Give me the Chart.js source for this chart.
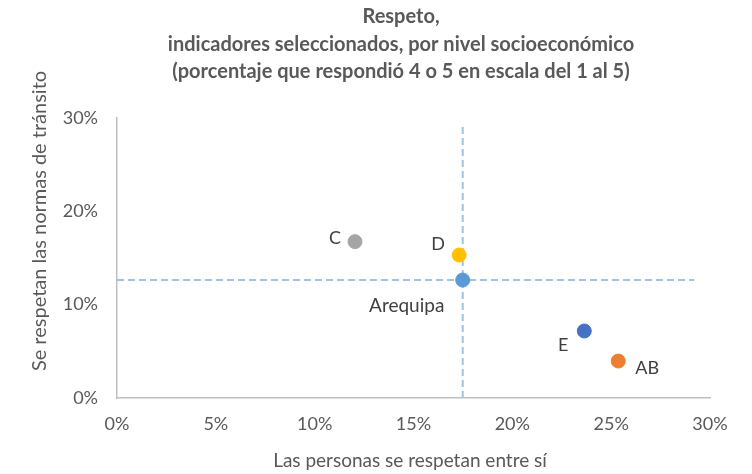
<!DOCTYPE html>
<html><head><meta charset="utf-8">
<script src="https://cdn.jsdelivr.net/npm/chart.js@4"></script>
<style>html,body{margin:0;padding:0;background:#fff}#wrap{width:752px;height:474px}</style>
</head><body><div id="wrap"><canvas id="c" width="752" height="474"></canvas></div>
<script>
const categories = ['AB', 'C', 'D', 'E', 'Arequipa'];
const xValues = [25.36, 12.04, 17.31, 23.64, 17.49];
const yValues = [3.96, 16.75, 15.32, 7.18, 12.64];
const pointColors = ['#ED7D31', '#A5A5A5', '#FFC000', '#4472C4', '#5B9BD5'];
const refLineEnd = 29.2;
const xTicks = [0, 5, 10, 15, 20, 25, 30];
const yTicks = [0, 10, 20, 30];
const titleLines = ['Respeto,', 'indicadores seleccionados, por nivel socioeconómico', '(porcentaje que respondió 4 o 5 en escala del 1 al 5)'];
const xTitle = 'Las personas se respetan entre sí';
const yTitle = 'Se respetan las normas de tránsito';

const labelOffsets = {AB:[29,7], C:[-20,-3], D:[-21,-11], E:[-21,14], Arequipa:[-56,26]};
const FONT = 'Lato, "Open Sans", sans-serif';
const TXT = '#595959';

const iA = categories.indexOf('Arequipa');
const datasets = [
  {type:'line', data:[{x:0,y:yValues[iA]},{x:refLineEnd,y:yValues[iA]}], borderColor:'#9DC3E6', borderWidth:2, borderDash:[7,4], pointRadius:0, fill:false, order:2},
  {type:'line', data:[{x:xValues[iA],y:0},{x:xValues[iA],y:refLineEnd}], borderColor:'#9DC3E6', borderWidth:2, borderDash:[7,4], pointRadius:0, fill:false, order:2},
];
categories.forEach((c,i)=>{
  datasets.push({type:'scatter', label:c, data:[{x:xValues[i], y:yValues[i]}], backgroundColor:pointColors[i], borderColor:pointColors[i], pointRadius:7, pointHoverRadius:7, order:1});
});

const textPlugin = {
  id:'texts',
  afterDatasetsDraw(chart){
    const ctx = chart.ctx, xs = chart.scales.x, ys = chart.scales.y;
    ctx.save();
    ctx.fillStyle = '#404040';
    ctx.textAlign = 'center'; ctx.textBaseline = 'middle';
    categories.forEach((c,i)=>{
      const o = labelOffsets[c];
      ctx.font = (c === 'Arequipa' ? '19px ' : '18px ') + FONT;
      ctx.fillText(c, xs.getPixelForValue(xValues[i]) + o[0], ys.getPixelForValue(yValues[i]) + o[1]);
    });
    ctx.fillStyle = TXT;
    ctx.font = 'bold 20px ' + FONT;
    titleLines.forEach((t,k)=>ctx.fillText(t, 401, 17 + k*27.5));
    ctx.font = '19px ' + FONT;
    ctx.fillText(xTitle, 410, 461);
    ctx.font = '20px ' + FONT;
    ctx.translate(40, 221); ctx.rotate(-Math.PI/2);
    ctx.fillText(yTitle, 0, 0);
    ctx.restore();
  }
};

new Chart(document.getElementById('c'), {
  data:{datasets},
  options:{
    responsive:false, animation:false,
    layout:{padding:{top:118, right:42, left:0, bottom:0}},
    plugins:{legend:{display:false}, tooltip:{enabled:false}, title:{display:false}},
    scales:{
      x:{type:'linear', min:0, max:30,
        afterBuildTicks(s){ s.ticks = xTicks.map(v=>({value:v})); },
        afterFit(s){ s.height = 76; },
        grid:{display:false, drawTicks:false},
        border:{display:true, color:'#BFBFBF', width:1.5},
        ticks:{padding:15, color:TXT, font:{family:FONT, size:18}, callback:v=>v+'%'}},
      y:{type:'linear', min:0, max:30,
        afterBuildTicks(s){ s.ticks = yTicks.map(v=>({value:v})); },
        afterFit(s){ s.width = 117; },
        grid:{display:false, drawTicks:false},
        border:{display:true, color:'#BFBFBF', width:1.5},
        ticks:{padding:19, color:TXT, font:{family:FONT, size:18}, callback:v=>v+'%'}}
    }
  },
  plugins:[textPlugin]
});
</script></body></html>
